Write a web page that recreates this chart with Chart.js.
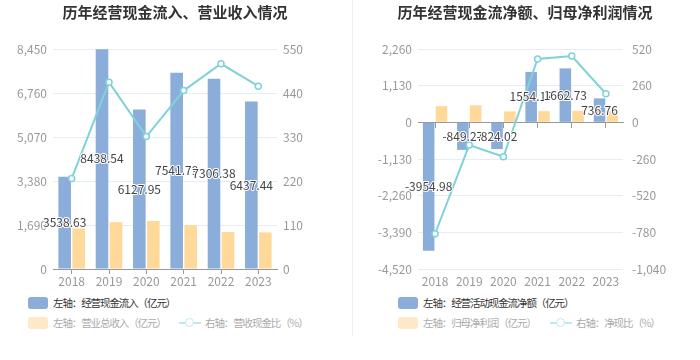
<!DOCTYPE html>
<html><head><meta charset="utf-8">
<script src="https://cdn.jsdelivr.net/npm/chart.js@4.4.0/dist/chart.umd.min.js"></script>
<style>
html,body{margin:0;padding:0;background:#fff;}
body{width:700px;height:360px;position:relative;overflow:hidden;font-family:"Noto Sans CJK SC","Noto Sans",sans-serif;}
.box{position:absolute;top:0;width:350px;height:290px;}
.sep{position:absolute;left:352px;top:0;width:1px;height:336px;background:#efefef;}
.lg{position:absolute;font-size:10.5px;letter-spacing:-1.1px;line-height:14px;white-space:nowrap;}
.sw{position:absolute;width:20px;height:12px;border-radius:3px;}
.ln{position:absolute;width:22px;height:2px;background:#bfe9ec;}
.ln i{position:absolute;left:6px;top:-4px;width:7px;height:7px;border:1.5px solid #bfe9ec;border-radius:50%;background:#fff;}
</style></head>
<body>
<div class="box" style="left:0"><canvas id="c1" width="350" height="290"></canvas></div>
<div class="sep"></div>
<div class="box" style="left:350px"><canvas id="c2" width="350" height="290"></canvas></div>

<div class="sw" style="left:28px;top:297px;background:#8badda"></div>
<div class="lg" style="left:53px;top:296px;color:#333">左轴：经营现金流入（亿元）</div>
<div class="sw" style="left:28px;top:317px;background:#ffe9c9"></div>
<div class="lg" style="left:53px;top:316px;color:#aaa">左轴：营业总收入（亿元）</div>
<div class="ln" style="left:179px;top:322px"><i></i></div>
<div class="lg" style="left:205px;top:316px;color:#aaa">右轴：营收现金比（%）</div>

<div class="sw" style="left:398px;top:297px;background:#8badda"></div>
<div class="lg" style="left:423px;top:296px;color:#333">左轴：经营活动现金流净额（亿元）</div>
<div class="sw" style="left:398px;top:317px;background:#ffe9c9"></div>
<div class="lg" style="left:423px;top:316px;color:#aaa">左轴：归母净利润（亿元）</div>
<div class="ln" style="left:550px;top:322px"><i></i></div>
<div class="lg" style="left:576px;top:316px;color:#aaa">右轴：净现比（%）</div>

<script>
const years = ['2018','2019','2020','2021','2022','2023'];
// chart 1
const cashInflow = [3538.63, 8438.54, 6127.95, 7541.79, 7306.38, 6437.44];
const revenue = [1560, 1800, 1845, 1685, 1420, 1405];
const cashRevRatio = [226, 467, 331, 446, 513, 457];
// chart 2
const opCashNet = [-3954.98, -849.27, -824.02, 1554.17, 1662.73, 736.76];
const netProfit = [500, 527, 338, 346, 354, 363];
const netCashRatio = [-790, -161, -244, 449, 470, 203];

const BLUE = '#8badda', ORANGE = '#ffd99a', TEAL = '#7fd3d8';
const FONT = '"Noto Sans CJK SC","Noto Sans",sans-serif';
const GRID = '#e6ebf4', TICK = '#999';

const barLabels = {
  id: 'barLabels',
  afterDatasetsDraw(chart) {
    const ctx = chart.ctx;
    const meta = chart.getDatasetMeta(0);
    const data = chart.data.datasets[0].data;
    ctx.save();
    ctx.font = '12px ' + FONT;
    ctx.textAlign = 'center';
    ctx.textBaseline = 'middle';
    ctx.lineJoin = 'round';
    meta.data.forEach((el, i) => {
      const y = (el.y + el.base) / 2;
      const t = data[i].toFixed(2);
      ctx.lineWidth = 2; ctx.strokeStyle = '#fff';
      ctx.strokeText(t, el.x, y);
      ctx.fillStyle = '#444';
      ctx.fillText(t, el.x, y);
    });
    ctx.restore();
  }
};

function makeChart(id, title, bars1, bars2, line, yl, yr, leftW, rightW, zeroAxis) {
  const scales = {
    x: {
      type: 'category', offset: true,
      grid: zeroAxis ? {display: false, drawTicks: false} : {display: true, drawOnChartArea: false, offset: false, tickLength: 5, color: TICK},
      border: {display: !zeroAxis, color: TICK},
      ticks: {color: TICK, font: {size: 12, family: FONT}, padding: zeroAxis ? 5 : 0, maxRotation: 0, autoSkip: false},
      afterFit(s) { s.height = 21; }
    },
    y: {
      position: 'left', min: yl[0], max: yl[1],
      ticks: {stepSize: yl[2], color: TICK, font: {size: 12, family: FONT}, padding: 6},
      grid: {color: GRID, drawTicks: false},
      border: {display: false},
      afterFit(s) { s.width = leftW; }
    },
    y1: {
      position: 'right', min: yr[0], max: yr[1],
      ticks: {stepSize: yr[2], color: TICK, font: {size: 12, family: FONT}, padding: zeroAxis ? 9 : 6},
      grid: {drawOnChartArea: false, drawTicks: false},
      border: {display: false},
      afterFit(s) { s.width = rightW; }
    }
  };
  if (zeroAxis) {
    scales.x2 = {
      type: 'category', labels: years, offset: true, position: {y: 0},
      grid: {display: true, drawOnChartArea: false, offset: false, tickLength: 5, color: TICK},
      border: {display: true, color: TICK},
      ticks: {display: false}
    };
  }
  return new Chart(document.getElementById(id), {
    data: {
      labels: years,
      datasets: [
        {type: 'bar', data: bars1, backgroundColor: BLUE, yAxisID: 'y', categoryPercentage: 0.75, barPercentage: 0.9, order: 2},
        {type: 'bar', data: bars2, backgroundColor: ORANGE, yAxisID: 'y', categoryPercentage: 0.75, barPercentage: 0.9, order: 2},
        {type: 'line', data: line, borderColor: TEAL, borderWidth: 2, yAxisID: 'y1', pointRadius: 3, pointBorderWidth: 1.5,
         pointBackgroundColor: '#fff', pointBorderColor: TEAL, tension: 0, order: 1}
      ]
    },
    options: {
      responsive: false, animation: false,
      layout: {padding: 0},
      plugins: {
        legend: {display: false}, tooltip: {enabled: false},
        title: {display: true, text: title, color: '#333', font: {size: 15, weight: 'bold', family: FONT, lineHeight: 1.2}, padding: {top: 3, bottom: 28}}
      },
      scales
    },
    plugins: [barLabels]
  });
}

makeChart('c1', '历年经营现金流入、营业收入情况', cashInflow, revenue, cashRevRatio, [0, 8450, 1690], [0, 550, 110], 53, 73, false);
makeChart('c2', '历年经营现金流净额、归母净利润情况', opCashNet, netProfit, netCashRatio, [-4520, 2260, 1130], [-1040, 520, 260], 68, 77, true);
</script>
</body></html>
